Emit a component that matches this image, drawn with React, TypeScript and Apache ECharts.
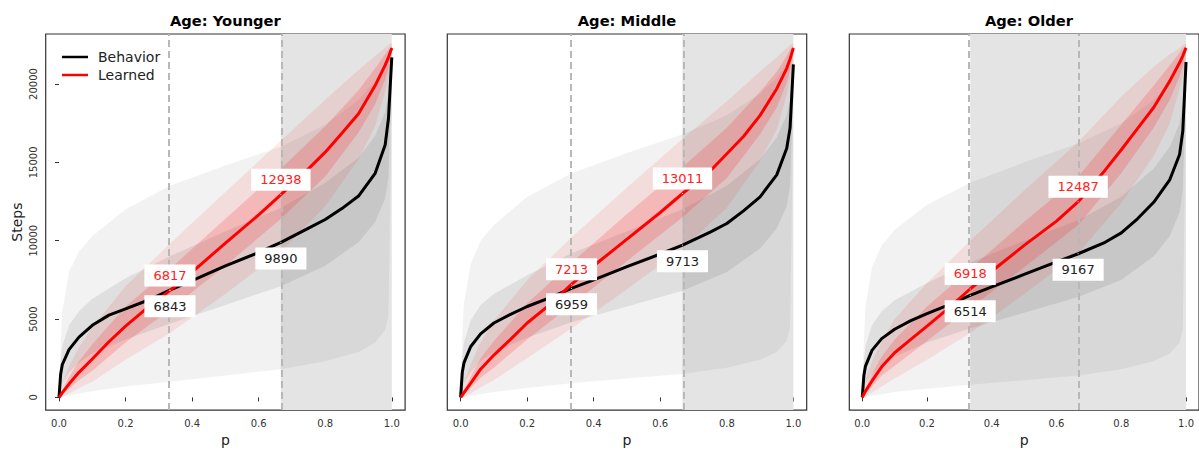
import React, { useEffect, useRef } from "react";
import * as echarts from "echarts";

// ---------- data ----------
// p grid of the mean curves
const P_MEAN = [0, 0.005, 0.01, 0.03, 0.06, 0.1, 0.15, 0.2, 0.267, 0.333, 0.4, 0.5, 0.6, 0.667, 0.75, 0.8, 0.85, 0.9, 0.95, 0.98, 0.99, 1];
// p grid of the envelopes of the individual curves
const P_BAND = [0, 0.005, 0.01, 0.03, 0.06, 0.1, 0.2, 0.333, 0.5, 0.667, 0.8, 0.9, 0.95, 0.98, 0.99, 1];

const panelTitles = ["Age: Younger", "Age: Middle", "Age: Older"];
const xTicks = [0, 0.2, 0.4, 0.6, 0.8, 1.0];
const yTicks = [0, 5000, 10000, 15000, 20000];
const cutoffs = [1 / 3, 2 / 3];
const shadeFrom = [2 / 3, 2 / 3, 1 / 3];
const shadeTo = [1, 1, 1];

// mean curves
const behaviorYounger = [0, 1500, 2100, 3050, 3850, 4600, 5250, 5650, 6200, 6843, 7450, 8400, 9250, 9890, 10800, 11350, 12050, 12850, 14300, 16100, 17800, 21700];
const learnedYounger = [0, 150, 300, 850, 1600, 2450, 3550, 4550, 5750, 6817, 8000, 9850, 11650, 12938, 14600, 15650, 16850, 18100, 19900, 21200, 21700, 22300];
const behaviorMiddle = [0, 1600, 2200, 3230, 4050, 4750, 5300, 5800, 6350, 6959, 7500, 8350, 9150, 9713, 10550, 11100, 11900, 12800, 14200, 15900, 17200, 21250];
const learnedMiddle = [0, 150, 300, 900, 1800, 2700, 3700, 4750, 5900, 7213, 8400, 10100, 11800, 13011, 14450, 15550, 16650, 18000, 19700, 21000, 21600, 22300];
const behaviorOlder = [0, 1400, 2000, 3000, 3750, 4350, 4900, 5350, 5900, 6514, 7050, 7850, 8650, 9167, 9900, 10500, 11400, 12450, 13900, 15500, 17000, 21400];
const learnedOlder = [0, 200, 400, 1050, 1950, 2850, 3700, 4550, 5700, 6918, 8050, 9700, 11250, 12487, 14500, 15800, 17150, 18500, 20200, 21350, 21800, 22300];

// annotated values at p = 1/3 and 2/3
const behaviorMarks = [[6843, 9890], [6959, 9713], [6514, 9167]];
const learnedMarks = [[6817, 12938], [7213, 13011], [6918, 12487]];

// spread of individual curves (outer / inner envelopes)
const grayOuterLoYounger = [0, 0, 30, 120, 250, 400, 700, 1000, 1400, 1800, 2300, 2900, 3500, 4300, 5200, 19000];
const grayOuterHiYounger = [0, 3500, 5500, 8000, 9300, 10300, 12000, 13500, 14800, 16000, 17400, 19000, 20200, 21200, 21800, 22600];
const grayInnerLoYounger = [0, 500, 900, 1600, 2200, 2800, 3700, 4700, 5900, 7100, 8400, 9900, 11200, 12700, 14000, 20800];
const grayInnerHiYounger = [0, 2300, 3300, 4600, 5500, 6300, 7600, 9000, 10600, 12100, 13700, 15300, 16700, 18200, 19300, 21900];
const redOuterLoYounger = [0, 0, 40, 250, 600, 1000, 2400, 4100, 6600, 9300, 12200, 15200, 17300, 19500, 20400, 21900];
const redOuterHiYounger = [0, 500, 900, 2000, 3200, 4500, 7100, 9800, 13100, 16400, 19000, 20900, 21800, 22300, 22500, 22600];
const redInnerLoYounger = [0, 80, 180, 550, 1100, 1700, 3500, 5600, 8400, 11400, 14100, 16900, 18700, 20300, 21000, 22200];
const redInnerHiYounger = [0, 260, 480, 1300, 2300, 3400, 5800, 8200, 11400, 14600, 17300, 19600, 21000, 21900, 22200, 22400];

const grayOuterLoMiddle = [0, 0, 20, 100, 200, 350, 600, 900, 1200, 1500, 1900, 2400, 2900, 3600, 4500, 18500];
const grayOuterHiMiddle = [0, 4000, 6000, 8500, 10000, 11000, 12800, 14300, 15600, 16800, 18000, 19400, 20400, 21300, 21800, 22600];
const grayInnerLoMiddle = [0, 500, 900, 1600, 2300, 2900, 3800, 4800, 5800, 6800, 8000, 9500, 10800, 12200, 13500, 20300];
const grayInnerHiMiddle = [0, 2500, 3500, 4900, 5900, 6600, 7800, 9200, 10600, 12000, 13500, 15200, 16600, 18000, 19000, 21800];
const redOuterLoMiddle = [0, 0, 40, 250, 650, 1100, 2500, 4400, 6900, 9500, 12100, 15100, 17100, 19300, 20300, 21900];
const redOuterHiMiddle = [0, 500, 950, 2100, 3500, 4900, 7500, 10200, 13400, 16500, 18900, 20800, 21700, 22300, 22500, 22600];
const redInnerLoMiddle = [0, 80, 180, 600, 1250, 1900, 3700, 5900, 8700, 11500, 14000, 16800, 18500, 20100, 20900, 22200];
const redInnerHiMiddle = [0, 260, 480, 1300, 2500, 3600, 6000, 8600, 11700, 14700, 17200, 19500, 20800, 21800, 22200, 22400];

const grayOuterLoOlder = [0, 0, 20, 100, 200, 350, 550, 800, 1100, 1400, 1800, 2300, 2800, 3500, 4300, 18500];
const grayOuterHiOlder = [0, 3800, 5800, 8300, 9700, 10700, 12300, 13700, 15000, 16200, 17500, 19000, 20100, 21100, 21700, 22600];
const grayInnerLoOlder = [0, 450, 850, 1500, 2100, 2600, 3500, 4400, 5400, 6400, 7500, 9000, 10300, 11800, 13200, 20300];
const grayInnerHiOlder = [0, 2300, 3300, 4600, 5500, 6200, 7300, 8600, 10000, 11300, 12800, 14600, 16000, 17500, 18700, 21800];
const redOuterLoOlder = [0, 0, 50, 300, 700, 1200, 2400, 4100, 6600, 9200, 12400, 15400, 17500, 19700, 20500, 21900];
const redOuterHiOlder = [0, 600, 1100, 2300, 3600, 5000, 7300, 10000, 13200, 16300, 19200, 21100, 21900, 22300, 22500, 22600];
const redInnerLoOlder = [0, 100, 220, 700, 1400, 2000, 3600, 5700, 8300, 11000, 14300, 17200, 19000, 20500, 21100, 22200];
const redInnerHiOlder = [0, 320, 600, 1500, 2600, 3700, 5800, 8200, 11200, 14100, 17400, 19900, 21200, 22000, 22300, 22400];

// ---------- assembly ----------
const FONT = "DejaVu Sans";
const panels = [
  {
    behavior: behaviorYounger, learned: learnedYounger,
    gray: [[grayOuterLoYounger, grayOuterHiYounger], [grayInnerLoYounger, grayInnerHiYounger]],
    red: [[redOuterLoYounger, redOuterHiYounger], [redInnerLoYounger, redInnerHiYounger]],
  },
  {
    behavior: behaviorMiddle, learned: learnedMiddle,
    gray: [[grayOuterLoMiddle, grayOuterHiMiddle], [grayInnerLoMiddle, grayInnerHiMiddle]],
    red: [[redOuterLoMiddle, redOuterHiMiddle], [redInnerLoMiddle, redInnerHiMiddle]],
  },
  {
    behavior: behaviorOlder, learned: learnedOlder,
    gray: [[grayOuterLoOlder, grayOuterHiOlder], [grayInnerLoOlder, grayInnerHiOlder]],
    red: [[redOuterLoOlder, redOuterHiOlder], [redInnerLoOlder, redInnerHiOlder]],
  },
];

const gridLefts = [45.7, 447.3, 849.3];
const GRID_W = 359.4;
const GRID_TOP = 34;
const GRID_H = 384;
const X_MIN = -0.04;
const X_MAX = 1.04;
const Y_MIN = -810;
const Y_MAX = 23190;

function bandSeries(idx: number, lo: number[], hi: number[], fill: string, z: number) {
  return {
    type: "custom",
    xAxisIndex: idx,
    yAxisIndex: idx,
    z,
    silent: true,
    clip: true,
    data: [[0, 0]],
    renderItem: (_params: any, api: any) => {
      const pts: number[][] = [];
      for (let k = 0; k < P_BAND.length; k++) pts.push(api.coord([P_BAND[k], hi[k]]));
      for (let k = P_BAND.length - 1; k >= 0; k--) pts.push(api.coord([P_BAND[k], lo[k]]));
      return { type: "polygon", shape: { points: pts }, style: { fill } };
    },
  };
}

function buildOption() {
  const grid: any[] = [];
  const xAxis: any[] = [];
  const yAxis: any[] = [];
  const series: any[] = [];
  const title: any[] = [];

  panels.forEach((pn, i) => {
    grid.push({
      left: gridLefts[i], top: GRID_TOP, width: GRID_W, height: GRID_H,
      show: true, borderColor: "#333", borderWidth: 1.2, backgroundColor: "#fff", containLabel: false,
    });
    xAxis.push({
      type: "value", gridIndex: i, min: X_MIN, max: X_MAX,
      name: "p", nameLocation: "middle", nameGap: 19,
      nameTextStyle: { fontFamily: FONT, fontSize: 14, color: "#222" },
      splitLine: { show: false },
      axisLine: { show: false },
      axisTick: { show: true, customValues: xTicks, length: 4, lineStyle: { color: "#333", width: 1 } },
      axisLabel: {
        show: true, customValues: xTicks, margin: 8, fontFamily: FONT, fontSize: 10, color: "#333",
        formatter: (v: number) => v.toFixed(1),
      },
    });
    yAxis.push({
      type: "value", gridIndex: i, min: Y_MIN, max: Y_MAX,
      name: i === 0 ? "Steps" : "", nameLocation: "middle", nameGap: 22,
      nameTextStyle: { fontFamily: FONT, fontSize: 14, color: "#222" },
      splitLine: { show: false },
      axisLine: { show: false },
      axisTick: { show: i === 0, customValues: yTicks, length: 4, lineStyle: { color: "#333", width: 1 } },
      axisLabel: {
        show: i === 0, customValues: yTicks, rotate: 90, margin: 7, fontFamily: FONT, fontSize: 10, color: "#333",
        formatter: (v: number) => String(Math.round(v)),
      },
    });
    title.push({
      text: panelTitles[i], left: gridLefts[i] + GRID_W / 2, top: 13, padding: 0, textAlign: "center",
      textStyle: { fontFamily: FONT, fontSize: 14.7, fontWeight: "bold", color: "#000" },
    });

    // shaded region
    series.push({
      type: "line", xAxisIndex: i, yAxisIndex: i, z: 1, silent: true, data: [[0, 0]],
      symbol: "none", lineStyle: { opacity: 0 },
      markArea: {
        silent: true, itemStyle: { color: "#e4e4e4", opacity: 1 },
        data: [[{ xAxis: shadeFrom[i] }, { xAxis: shadeTo[i] }]],
      },
    });
    // individual-curve spread
    series.push(bandSeries(i, pn.gray[0][0], pn.gray[0][1], "rgba(0,0,0,0.05)", 2));
    series.push(bandSeries(i, pn.gray[1][0], pn.gray[1][1], "rgba(0,0,0,0.08)", 2));
    series.push(bandSeries(i, pn.red[0][0], pn.red[0][1], "rgba(255,0,0,0.09)", 3));
    series.push(bandSeries(i, pn.red[1][0], pn.red[1][1], "rgba(255,0,0,0.16)", 3));
    // dashed cut lines
    series.push({
      type: "line", xAxisIndex: i, yAxisIndex: i, z: 4, silent: true, data: [[0, 0]],
      symbol: "none", lineStyle: { opacity: 0 },
      markLine: {
        silent: true, symbol: "none", label: { show: false },
        lineStyle: { color: "#b8b8b8", width: 2, type: [7, 4] },
        data: cutoffs.map((c) => ({ xAxis: c })),
      },
    });
    // mean curves
    series.push({
      name: "Behavior", type: "line", xAxisIndex: i, yAxisIndex: i, z: 5,
      data: P_MEAN.map((p, k) => [p, pn.behavior[k]]),
      smooth: false, symbol: "none",
      lineStyle: { color: "#000", width: 3, join: "round" }, itemStyle: { color: "#000" },
    });
    series.push({
      name: "Learned", type: "line", xAxisIndex: i, yAxisIndex: i, z: 6,
      data: P_MEAN.map((p, k) => [p, pn.learned[k]]),
      smooth: false, symbol: "none",
      lineStyle: { color: "#ff0000", width: 3, join: "round" }, itemStyle: { color: "#ff0000" },
    });
    // value labels
    const labelBase = {
      show: true, position: "inside", fontFamily: FONT, fontSize: 13, opacity: 1,
      backgroundColor: "#ffffff", padding: [5, 9, 4, 9],
      formatter: (pp: any) => String(pp.value[1]),
    };
    series.push({
      type: "scatter", xAxisIndex: i, yAxisIndex: i, z: 20, silent: true,
      symbol: "circle", symbolSize: 1, itemStyle: { color: "#ffffff", opacity: 1 },
      data: cutoffs.map((c, k) => [c, learnedMarks[i][k]]),
      label: { ...labelBase, color: "#ff2020" },
      labelLayout: { dy: -15, hideOverlap: false },
    });
    series.push({
      type: "scatter", xAxisIndex: i, yAxisIndex: i, z: 20, silent: true,
      symbol: "circle", symbolSize: 1, itemStyle: { color: "#ffffff", opacity: 1 },
      data: cutoffs.map((c, k) => [c, behaviorMarks[i][k]]),
      label: { ...labelBase, color: "#222" },
      labelLayout: { dy: 16, hideOverlap: false },
    });
  });

  const graphic = [
    { type: "line", shape: { x1: 62, y1: 57, x2: 88, y2: 57 }, style: { stroke: "#000", lineWidth: 2.5 }, z: 20 },
    { type: "text", x: 98, y: 57, z: 20, style: { text: "Behavior", fontFamily: FONT, fontSize: 14, fill: "#222", verticalAlign: "middle" } },
    { type: "line", shape: { x1: 62, y1: 75, x2: 88, y2: 75 }, style: { stroke: "#ff0000", lineWidth: 2.5 }, z: 20 },
    { type: "text", x: 98, y: 75, z: 20, style: { text: "Learned", fontFamily: FONT, fontSize: 14, fill: "#222", verticalAlign: "middle" } },
  ];

  return {
    animation: false,
    backgroundColor: "#fff",
    textStyle: { fontFamily: FONT },
    title, grid, xAxis, yAxis, series, graphic,
  };
}

export default function App() {
  const ref = useRef<HTMLDivElement>(null);
  useEffect(() => {
    if (!ref.current) return;
    const chart = echarts.init(ref.current, undefined, { renderer: "svg" });
    chart.setOption(buildOption() as any);
    return () => chart.dispose();
  }, []);
  return (
    <div
      ref={ref}
      style={{ position: "absolute", left: 0, top: 0, width: 1199, height: 452, overflow: "hidden" }}
    />
  );
}
